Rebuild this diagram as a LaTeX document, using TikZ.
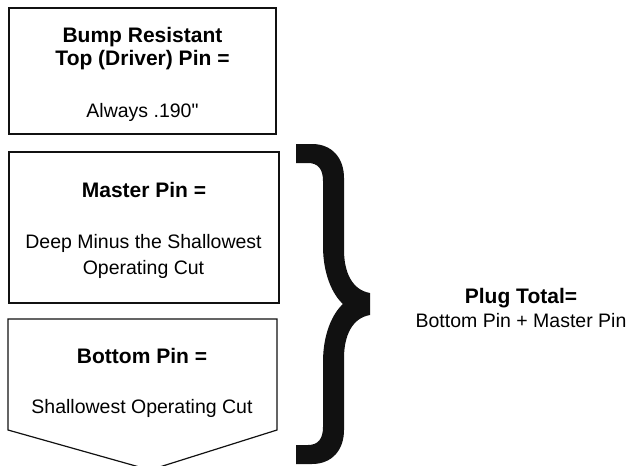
\documentclass[tikz,border=0pt]{standalone}
\usepackage{fontspec}
\setmainfont{Liberation Sans}[Ligatures=TeXOff]
\usetikzlibrary{positioning}
\definecolor{cInk}{HTML}{111111}
\tikzset{
  pinbox/.style={draw=cInk, line width=1.2pt, inner sep=0pt},
  hd/.style={font=\fontsize{21}{23}\selectfont\bfseries, text=black, anchor=base, inner sep=0pt},
  tx/.style={font=\fontsize{19.5}{24}\selectfont, text=black, anchor=base, inner sep=0pt},
}
\begin{document}
\begin{tikzpicture}[x=1pt,y=-1pt]
\useasboundingbox (0,0) rectangle (638,466);
% top (driver) pin
\node[pinbox, minimum width=267pt, minimum height=126pt] (top) at (142.5,71) {};
\node[hd] (toph1) at (142.5,42) {Bump Resistant};
\node[hd] (toph2) at (142.5,65) {Top (Driver) Pin =};
\node[tx] (topv) at (142.5,117) {Always .190"};
% master pin
\node[pinbox, minimum width=270pt, minimum height=151pt] (mast) at (144,227.5) {};
\node[hd] (masth) at (144,197) {Master Pin =};
\node[tx] (mastv1) at (143.5,248) {Deep Minus the Shallowest};
\node[tx] (mastv2) at (143.5,274) {Operating Cut};
% bottom pin
\draw[pinbox] (8,319) -- (277,319) -- (277,430) -- (150,470) -- (8,430) -- cycle;
\node[hd] (both) at (142,363) {Bottom Pin =};
\node[tx] (botv) at (142,413) {Shallowest Operating Cut};
% brace
\fill[cInk] (296,144) -- (312,144) .. controls (332,144) and (344,158) .. (344,178)
  -- (344,250) .. controls (344,272) and (352,290) .. (370,293)
  -- (370,315) .. controls (352,318) and (344,336) .. (344,358)
  -- (344,430) .. controls (344,450) and (332,464) .. (312,464)
  -- (296,464) -- (296,445) -- (308,445) .. controls (318,445) and (323,439) .. (323,427)
  -- (323,362) .. controls (323,333) and (333,313) .. (343,304)
  .. controls (333,295) and (323,275) .. (323,246)
  -- (323,181) .. controls (323,169) and (318,163) .. (308,163) -- (296,163) -- cycle;
% plug total
\node[hd] (plugh) at (521,303) {Plug Total=};
\node[tx] (plugv) at (521,327) {Bottom Pin + Master Pin};
\end{tikzpicture}
\end{document}
